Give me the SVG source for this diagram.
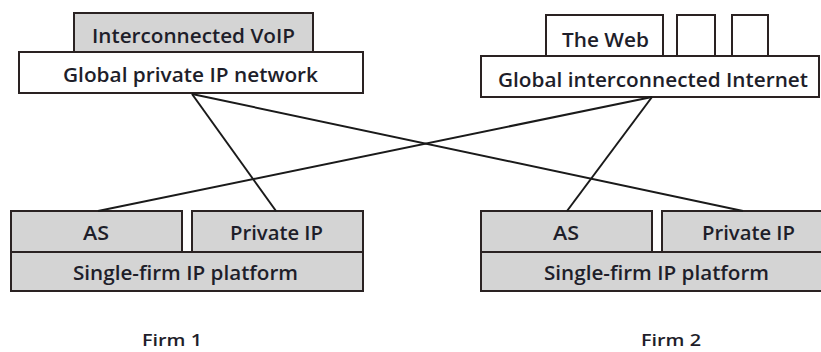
<svg xmlns="http://www.w3.org/2000/svg" width="821" height="352" viewBox="0 0 821 352">
<style>
.box{stroke:#2a2222;stroke-width:2;}
.g{fill:#d4d4d4;}
.w{fill:#ffffff;}
.t{font-family:"Open Sans","Liberation Sans",sans-serif;font-size:19px;font-weight:600;fill:#1e1e2a;text-anchor:middle;}
.f{font-size:16px;}
.ln{stroke:#1a1a1a;stroke-width:2;fill:none;}
</style>
<rect width="821" height="352" fill="#ffffff"/>
<g id="voip"><rect class="box g" x="74" y="13" width="239" height="39"/><text class="t" x="193.5" y="43" textLength="203" lengthAdjust="spacingAndGlyphs">Interconnected VoIP</text></g>
<g id="global-private"><rect class="box w" x="19" y="52" width="344" height="41"/><text class="t" x="190.5" y="82" textLength="255" lengthAdjust="spacingAndGlyphs">Global private IP network</text></g>
<g id="web"><rect class="box w" x="546" y="15" width="117" height="41"/><text class="t" x="605.5" y="47" textLength="87" lengthAdjust="spacingAndGlyphs">The Web</text></g>
<g id="blank1"><rect class="box w" x="677" y="15" width="38" height="41"/></g>
<g id="blank2"><rect class="box w" x="732" y="15" width="36" height="41"/></g>
<g id="global-internet"><rect class="box w" x="481" y="56" width="338" height="41"/><text class="t" x="653" y="87" textLength="310" lengthAdjust="spacingAndGlyphs">Global interconnected Internet</text></g>
<g id="firm1-as"><rect class="box g" x="11" y="211" width="171" height="41"/><text class="t" x="96" y="240" textLength="26" lengthAdjust="spacingAndGlyphs">AS</text></g>
<g id="firm1-private"><rect class="box g" x="192" y="211" width="171" height="41"/><text class="t" x="276.5" y="240" textLength="93" lengthAdjust="spacingAndGlyphs">Private IP</text></g>
<g id="firm1-platform"><rect class="box g" x="11" y="252" width="352" height="39"/><text class="t" x="185.5" y="280" textLength="225" lengthAdjust="spacingAndGlyphs">Single-firm IP platform</text></g>
<g id="firm2-as"><rect class="box g" x="481" y="211" width="171" height="41"/><text class="t" x="566" y="240" textLength="26" lengthAdjust="spacingAndGlyphs">AS</text></g>
<g id="firm2-private"><rect class="box g" x="662" y="211" width="171" height="41"/><text class="t" x="748.5" y="240" textLength="93" lengthAdjust="spacingAndGlyphs">Private IP</text></g>
<g id="firm2-platform"><rect class="box g" x="481" y="252" width="352" height="39"/><text class="t" x="656.5" y="280" textLength="225" lengthAdjust="spacingAndGlyphs">Single-firm IP platform</text></g>
<g id="connectors">
<line class="ln" x1="192" y1="94" x2="276" y2="211"/>
<line class="ln" x1="192" y1="94" x2="743" y2="211"/>
<line class="ln" x1="652" y1="97" x2="98" y2="211"/>
<line class="ln" x1="652" y1="97" x2="567" y2="211"/>
</g>
<g id="firm1-label"><text class="t f" x="172" y="346" textLength="60" lengthAdjust="spacingAndGlyphs">Firm 1</text></g>
<g id="firm2-label"><text class="t f" x="671" y="346" textLength="60" lengthAdjust="spacingAndGlyphs">Firm 2</text></g>
</svg>
